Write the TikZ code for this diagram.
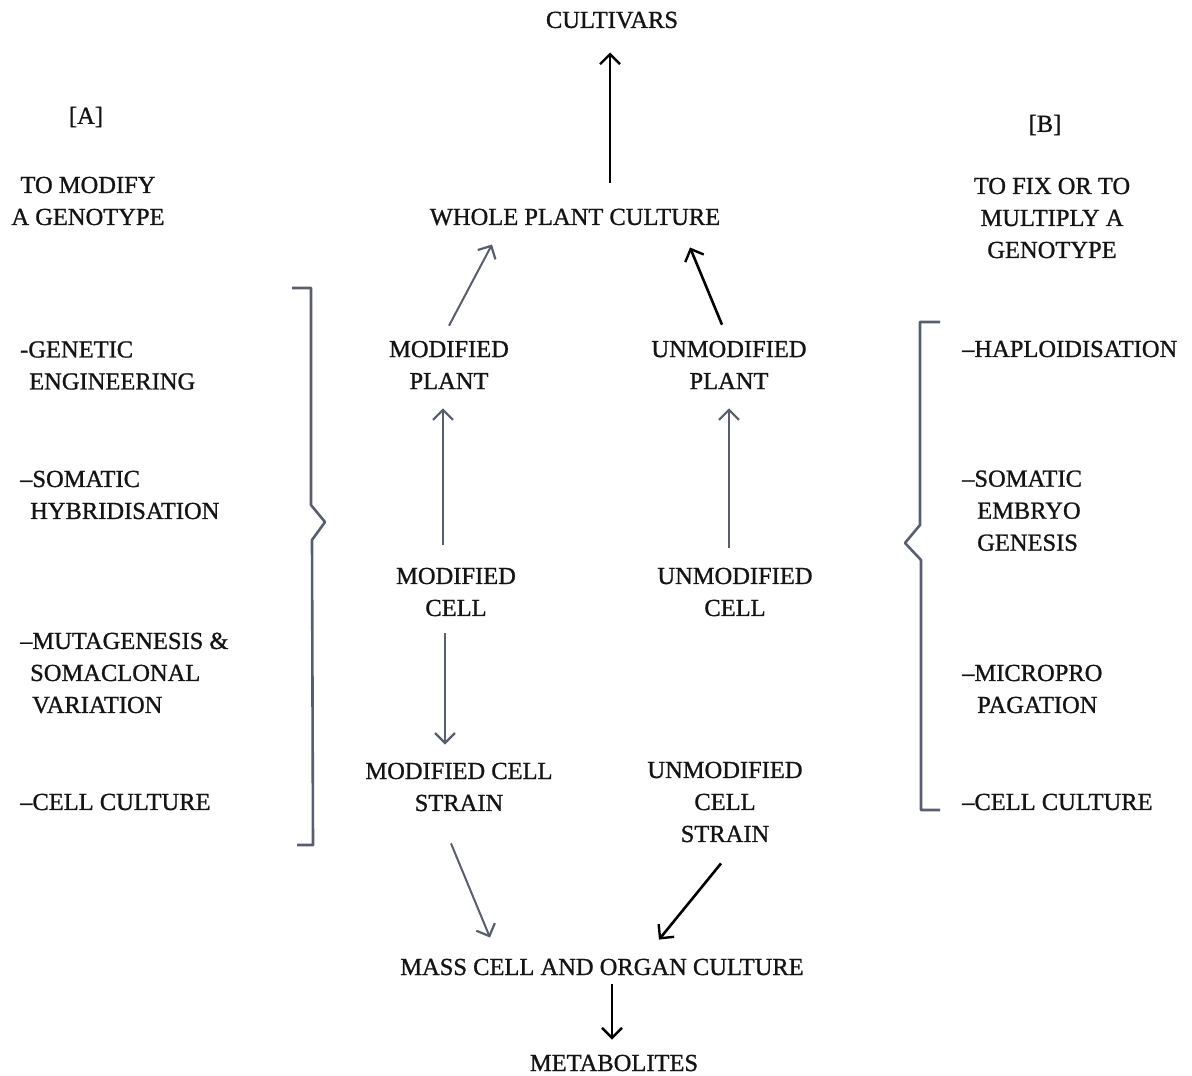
\documentclass[tikz,border=0pt]{standalone}
\usepackage{fontspec}
\setmainfont{Liberation Serif}
\newfontfamily\scanfont{Liberation Serif}[FakeBold=1]
\usetikzlibrary{arrows.meta,calc}
\definecolor{inkgray}{RGB}{88,94,110}
\definecolor{ink}{RGB}{20,20,20}
\begin{document}
\begin{tikzpicture}[x=1pt,y=-1pt,
  lbl/.style={inner sep=0pt,text=ink,font=\scanfont\fontsize{24.5}{32}\selectfont,align=center},
  lst/.style={inner sep=0pt,text=ink,font=\scanfont\fontsize{24.5}{32}\selectfont,align=left,anchor=west},
  blackarr/.style={line width=2.6pt,black,-{Straight Barb[length=10pt,width=20pt,line width=2.4pt]}},
  grayarr/.style={line width=2pt,inkgray,-{Straight Barb[length=10pt,width=20pt,line width=2.2pt]}},
  brace/.style={line width=2.6pt,inkgray,line join=round}]
\useasboundingbox (0,0) rectangle (1192,1076);
% central nodes
\node[lbl] (cult) at (612,20) {CULTIVARS};
\node[lbl] (whole) at (575,217) {WHOLE PLANT CULTURE};
\node[lbl] (mplant) at (449,365) {MODIFIED\\PLANT};
\node[lbl] (uplant) at (729,365) {UNMODIFIED\\PLANT};
\node[lbl] (mcell) at (456,592) {MODIFIED\\CELL};
\node[lbl] (ucell) at (735,592) {UNMODIFIED\\CELL};
\node[lbl] (mstrain) at (459,787) {MODIFIED CELL\\STRAIN};
\node[lbl] (ustrain) at (725,802) {UNMODIFIED\\CELL\\STRAIN};
\node[lbl] (mass) at (602,967) {MASS CELL AND ORGAN CULTURE};
\node[lbl] (meta) at (614,1063) {METABOLITES};
% side headings
\node[lbl] (A) at (86,117) {[A]};
\node[lbl] (Atxt) at (88,201) {TO MODIFY\\A GENOTYPE};
\node[lbl] (B) at (1045,125) {[B]};
\node[lbl] (Btxt) at (1052,218) {TO FIX OR TO\\MULTIPLY A\\GENOTYPE};
% left list
\node[lst] (l1) at (20,365.5) {-GENETIC\\\hspace{9pt}ENGINEERING};
\node[lst] (l2) at (20,495) {–SOMATIC\\\hspace{10pt}HYBRIDISATION};
\node[lst] (l3) at (20,673) {–MUTAGENESIS \&\\\hspace{10pt}SOMACLONAL\\\hspace{12pt}VARIATION};
\node[lst] (l4) at (20,802) {–CELL CULTURE};
% right list
\node[lst] (r1) at (962,349) {–HAPLOIDISATION};
\node[lst] (r2) at (962,510.7) {–SOMATIC\\\hspace{15pt}EMBRYO\\\hspace{15pt}GENESIS};
\node[lst] (r3) at (962,689) {–MICROPRO\\\hspace{15pt}PAGATION};
\node[lst] (r4) at (962,802) {–CELL CULTURE};
% brackets
\draw[brace] (292,288) -- (311,288) -- (311,505) -- (325,522) -- (312,540) -- (313,845) -- (297,845);
\draw[brace] (940,322) -- (920,322) -- (920,525) -- (905,543) -- (921,560) -- (921,810) -- (940,810);
% connectors
\draw[blackarr] ($(whole.north -| cult.south)+(-2,-26)$) -- ($(cult.south)+(-2,24)$);
\draw[grayarr] ($(mplant.north)+(0,-15)$) -- ($(whole.south)+(-83,19)$);
\draw[blackarr] ($(uplant.north)+(-7,-16)$) -- ($(whole.south)+(115,22)$);
\draw[grayarr] ($(mcell.north)+(-13,-23)$) -- ($(mplant.south)+(-6,19)$);
\draw[grayarr] ($(ucell.north)+(-6,-20)$) -- ($(uplant.south)+(0,19)$);
\draw[grayarr] ($(mcell.south)+(-11,17)$) -- ($(mstrain.north)+(-14,-18)$);
\draw[grayarr] ($(mstrain.south)+(-8,32)$) -- ($(mass.north)+(-112,-21)$);
\draw[blackarr] ($(ustrain.south)+(-4,21)$) -- ($(mass.north)+(57,-19)$);
\draw[blackarr] ($(mass.south -| meta.north)+(-2,9)$) -- ($(meta.north)+(-2,-15)$);
\end{tikzpicture}
\end{document}
